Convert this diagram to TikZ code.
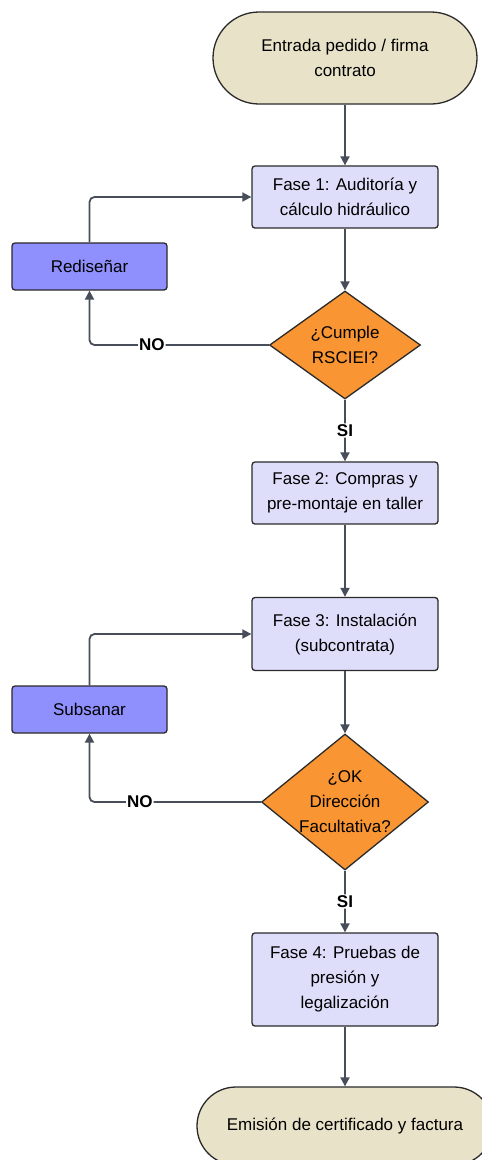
\documentclass[tikz,border=0pt]{standalone}
\usepackage{fontspec}
\setmainfont{Liberation Sans}
\usetikzlibrary{shapes.geometric,arrows.meta}
\definecolor{termfill}{HTML}{E8E2C9}
\definecolor{fasefill}{HTML}{DEDEFB}
\definecolor{loopfill}{HTML}{8F8FFD}
\definecolor{decfill}{HTML}{F99532}
\definecolor{linecol}{HTML}{474E5A}
\definecolor{edgecol}{HTML}{2A2A2A}
\tikzset{
  txt/.style={font=\fontsize{17}{25}\selectfont},
  base/.style={draw=edgecol, line width=1.3pt, align=center, txt, inner sep=0pt},
  term/.style={base, fill=termfill, rectangle},
  fase/.style={base, fill=fasefill, rectangle, rounded corners=3pt, minimum width=186pt},
  loopbox/.style={base, fill=loopfill, rectangle, rounded corners=3pt, minimum width=155pt, minimum height=47pt},
  dec/.style={base, fill=decfill, diamond},
  conn/.style={draw=linecol, line width=1.8pt, rounded corners=5pt, -{Triangle[length=9pt,width=9pt]}},
  lbl/.style={font=\fontsize{17}{20}\selectfont\bfseries, fill=white, inner sep=1pt, text=black}
}
\begin{document}
\begin{tikzpicture}[x=1pt,y=-1pt]
\useasboundingbox (0,0) rectangle (482,1160);
\clip (0,0) rectangle (482,1160);
\node[term, minimum width=264pt, minimum height=92pt, rounded corners=46pt] (start) at (345,58) {Entrada pedido / firma\\contrato};
\node[fase, minimum height=62pt] (f1) at (345,197) {Fase 1: Auditoría y\\cálculo hidráulico};
\node[loopbox] (r1) at (89.5,266.5) {Rediseñar};
\node[dec, minimum width=151pt, minimum height=108pt, label={[align=center,txt]center:¿Cumple\\RSCIEI?}] (d1) at (345,345) {};
\node[fase, minimum height=62pt] (f2) at (345,493) {Fase 2: Compras y\\pre-montaje en taller};
\node[fase, minimum height=73pt] (f3) at (345,634) {Fase 3: Instalación\\(subcontrata)};
\node[loopbox] (r2) at (89.5,709.5) {Subsanar};
\node[dec, minimum width=167pt, minimum height=136pt, label={[align=center,txt]center:¿OK\\Dirección\\Facultativa?}] (d2) at (345,802) {};
\node[fase, minimum height=93pt] (f4) at (345,979.5) {Fase 4: Pruebas de\\presión y\\legalización};
\node[term, minimum width=296pt, minimum height=78pt, rounded corners=39pt] (end) at (345,1126) {Emisión de certificado y factura};

\draw[conn] (start) -- (f1);
\draw[conn] (f1) -- (d1);
\draw[conn] (d1.west) -| node[lbl, pos=0.326] (no1) {NO} (r1.south);
\draw[conn] (r1.north) |- (f1.west);
\draw[conn] (d1.south) -- node[lbl, pos=0.5] (si1) {SI} (f2.north);
\draw[conn] (f2) -- (f3);
\draw[conn] (f3) -- (d2);
\draw[conn] (d2.west) -| node[lbl, pos=0.353] (no2) {NO} (r2.south);
\draw[conn] (r2.north) |- (f3.west);
\draw[conn] (d2.south) -- node[lbl, pos=0.5] (si2) {SI} (f4.north);
\draw[conn] (f4) -- (end);
\end{tikzpicture}
\end{document}
